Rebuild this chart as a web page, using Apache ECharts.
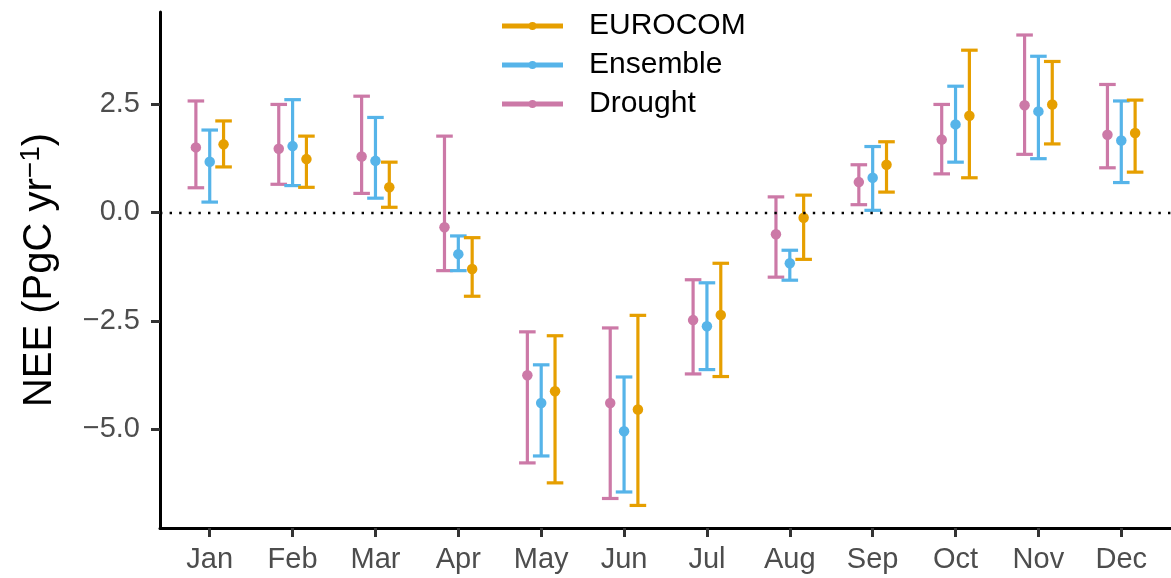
<!DOCTYPE html>
<html>
<head>
<meta charset="utf-8">
<script src="https://cdn.jsdelivr.net/npm/echarts@6/dist/echarts.min.js"></script>
<style>
  html, body { margin: 0; padding: 0; background: #fff; }
  #chart { width: 1171px; height: 578px; }
</style>
</head>
<body>
<div id="chart"></div>
<script>
// Monthly net ecosystem exchange (PgC yr^-1): mean with lower/upper range
const months = ['Jan', 'Feb', 'Mar', 'Apr', 'May', 'Jun', 'Jul', 'Aug', 'Sep', 'Oct', 'Nov', 'Dec'];

const droughtMid = [1.50, 1.47, 1.29, -0.34, -3.75, -4.39, -2.48, -0.50, 0.70, 1.68, 2.47, 1.79];
const droughtLo  = [0.57, 0.65, 0.44, -1.34, -5.77, -6.59, -3.72, -1.49, 0.18, 0.89, 1.34, 1.03];
const droughtHi  = [2.57, 2.49, 2.68, 1.76, -2.75, -2.66, -1.55, 0.36, 1.10, 2.49, 4.09, 2.95];

const ensembleMid = [1.17, 1.53, 1.19, -0.96, -4.39, -5.04, -2.62, -1.17, 0.80, 2.03, 2.33, 1.66];
const ensembleLo  = [0.24, 0.62, 0.33, -1.34, -5.61, -6.44, -3.62, -1.56, 0.05, 1.16, 1.24, 0.69];
const ensembleHi  = [1.90, 2.60, 2.19, -0.54, -3.51, -3.79, -1.62, -0.87, 1.52, 2.91, 3.60, 2.57];

const eurocomMid = [1.57, 1.23, 0.58, -1.30, -4.12, -4.54, -2.36, -0.12, 1.10, 2.23, 2.49, 1.83];
const eurocomLo  = [1.05, 0.58, 0.12, -1.93, -6.23, -6.75, -3.78, -1.08, 0.47, 0.80, 1.58, 0.93];
const eurocomHi  = [2.11, 1.76, 1.16, -0.58, -2.84, -2.37, -1.17, 0.40, 1.63, 3.74, 3.48, 2.59];

const yTicks = [-5, -2.5, 0, 2.5];

const groups = [
  { name: 'Drought',  color: '#CC79A7', offset: -0.167, mid: droughtMid,  lo: droughtLo,  hi: droughtHi },
  { name: 'Ensemble', color: '#56B4E9', offset: 0,      mid: ensembleMid, lo: ensembleLo, hi: ensembleHi },
  { name: 'EUROCOM',  color: '#E69F00', offset: 0.167,  mid: eurocomMid,  lo: eurocomLo,  hi: eurocomHi }
];

const FONT = '"Liberation Sans", Arial, Helvetica, sans-serif';
const CAP_HALF = 0.1; // half width of error bar caps, in month units

function errorBarRenderer(color) {
  return function (params, api) {
    const x = api.value(0);
    const top = api.coord([x, api.value(2)]);
    const bot = api.coord([x, api.value(1)]);
    const capL = api.coord([x - CAP_HALF, 0])[0];
    const capR = api.coord([x + CAP_HALF, 0])[0];
    const style = { stroke: color, lineWidth: 3.2, fill: null };
    return {
      type: 'group',
      children: [
        { type: 'line', shape: { x1: top[0], y1: top[1], x2: bot[0], y2: bot[1] }, style: style },
        { type: 'line', shape: { x1: capL, y1: top[1], x2: capR, y2: top[1] }, style: style },
        { type: 'line', shape: { x1: capL, y1: bot[1], x2: capR, y2: bot[1] }, style: style }
      ]
    };
  };
}

const series = [];
groups.forEach(function (g) {
  series.push({
    name: g.name,
    type: 'custom',
    renderItem: errorBarRenderer(g.color),
    itemStyle: { color: g.color },
    encode: { x: 0, y: [1, 2] },
    data: months.map(function (m, i) { return [i + 1 + g.offset, g.lo[i], g.hi[i]]; }),
    silent: true,
    z: 2
  });
  series.push({
    name: g.name,
    type: 'scatter',
    symbol: 'circle',
    symbolSize: 10.5,
    itemStyle: { color: g.color, opacity: 1 },
    data: months.map(function (m, i) { return [i + 1 + g.offset, g.mid[i]]; }),
    silent: true,
    z: 3
  });
});

// zero reference line
series.push({
  type: 'line',
  data: [],
  silent: true,
  markLine: {
    silent: true,
    symbol: 'none',
    label: { show: false },
    lineStyle: { color: '#000', width: 2.4, type: [2.4, 7.2], cap: 'butt' },
    data: [{ yAxis: 0 }]
  },
  z: 1
});

// legend key: a thick line with a dot at its middle (all sub-paths clockwise)
const KEY_W = 61, KEY_H = 9;
const keyPath = 'path://M0,2L61,2L61,7L0,7Z M26.5,4.5A4,4,0,1,1,34.5,4.5A4,4,0,1,1,26.5,4.5Z';

const option = {
  animation: false,
  backgroundColor: '#fff',
  grid: { left: 160, right: -10, top: 12, bottom: 50, containLabel: false },
  legend: {
    orient: 'vertical',
    left: 497,
    top: 6,
    itemWidth: KEY_W,
    itemHeight: KEY_H,
    itemGap: 9,
    selectedMode: false,
    textStyle: { fontFamily: FONT, fontSize: 30, color: '#000', padding: [0, 0, 0, 21] },
    data: ['EUROCOM', 'Ensemble', 'Drought'].map(function (n) {
      return { name: n, icon: keyPath };
    })
  },
  xAxis: {
    type: 'value',
    min: 0.4,
    max: 12.6,
    splitLine: { show: false },
    axisLine: { show: true, onZero: false, lineStyle: { color: '#000', width: 3 } },
    axisTick: { show: true, length: 9, customValues: months.map(function (m, i) { return i + 1; }),
                lineStyle: { color: '#333', width: 3 } },
    axisLabel: {
      customValues: months.map(function (m, i) { return i + 1; }),
      formatter: function (v) { return months[Math.round(v) - 1]; },
      fontFamily: FONT, fontSize: 29, color: '#4D4D4D', margin: 17
    }
  },
  yAxis: {
    type: 'value',
    min: -7.27,
    max: 4.62,
    splitLine: { show: false },
    axisLine: { show: true, onZero: false, lineStyle: { color: '#000', width: 3 } },
    axisTick: { show: true, length: 9, customValues: yTicks, lineStyle: { color: '#333', width: 3 } },
    axisLabel: {
      customValues: yTicks,
      formatter: function (v) { return v.toFixed(1).replace('-', '\u2212'); },
      fontFamily: FONT, fontSize: 29, color: '#4D4D4D', margin: 20
    },
    name: '{n|NEE (PgC yr}{sup|\u22121}{n|)}',
    nameLocation: 'middle',
    nameRotate: 90,
    nameGap: 100,
    nameTextStyle: {
      fontFamily: FONT, fontSize: 40, color: '#000',
      rich: {
        n: { fontFamily: FONT, fontSize: 40, lineHeight: 40, color: '#000', verticalAlign: 'bottom' },
        sup: { fontFamily: FONT, fontSize: 28, lineHeight: 28, color: '#000', verticalAlign: 'bottom', padding: [0, 0, 15, 0] }
      }
    }
  },
  series: series
};

const chart = echarts.init(document.getElementById('chart'), null, { renderer: 'canvas' });
chart.setOption(option);
</script>
</body>
</html>
